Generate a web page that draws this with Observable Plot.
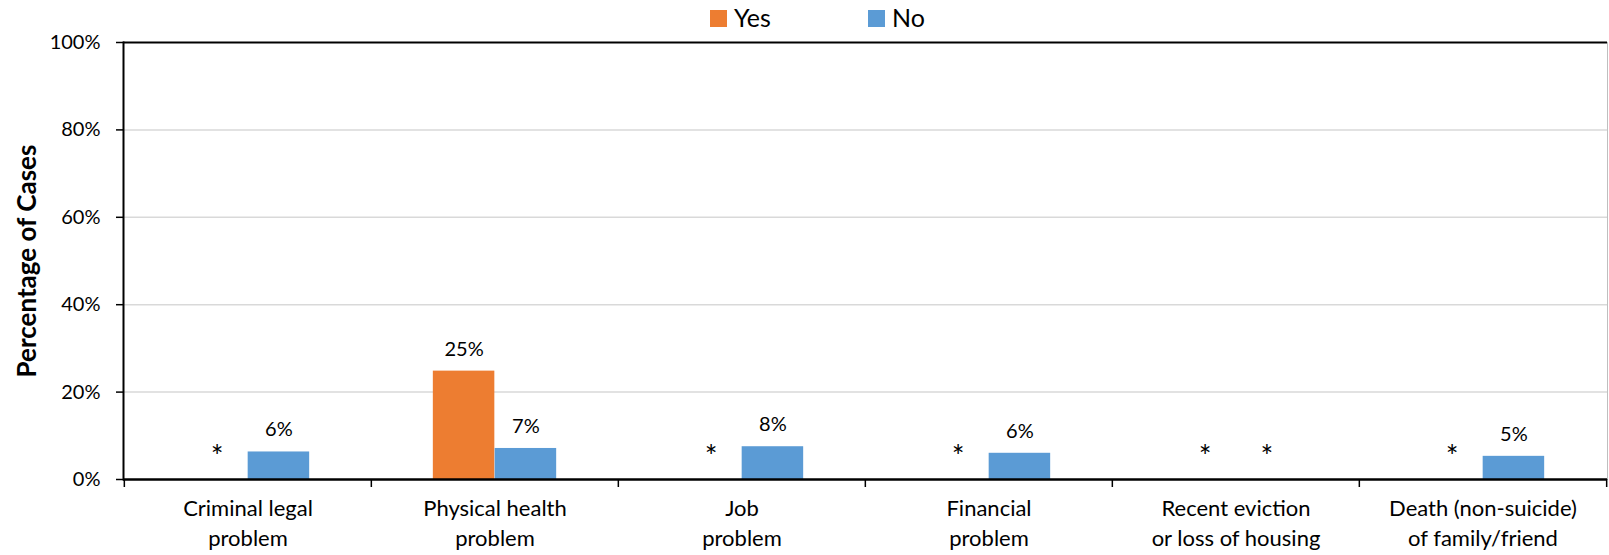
<!DOCTYPE html>
<html>
<head>
<meta charset="utf-8">
<script src="https://cdn.jsdelivr.net/npm/d3@7"></script>
<script src="https://cdn.jsdelivr.net/npm/@observablehq/plot@0.6"></script>
<style>
  html, body { margin: 0; padding: 0; background: #fff; }
  #legend { position: relative; height: 28px; width: 1609px; font-family: Lato, "Open Sans", sans-serif; font-size: 25px; color: #000; }
  #legend .sw { position: absolute; width: 17px; height: 17px; top: 10px; }
  #legend .lb { position: absolute; top: -1.5px; line-height: 37px; white-space: nowrap; }
</style>
</head>
<body>
<div id="legend"></div>
<div id="chart"></div>
<script>
const categories = [
  "Criminal legal\nproblem",
  "Physical health\nproblem",
  "Job\nproblem",
  "Financial\nproblem",
  "Recent eviction\nor loss of housing",
  "Death (non-suicide)\nof family/friend"
];
const seriesNames = ["Yes", "No"];
const seriesColors = ["#ED7D31", "#5B9BD5"];
const yesValues = [null, 24.8, null, null, null, null];
const noValues = [6.3, 7.1, 7.5, 6.0, null, 5.3];
const yesLabels = ["*", "25%", "*", "*", "*", "*"];
const noLabels = ["6%", "7%", "8%", "6%", "*", "5%"];
const yTicks = [0, 20, 40, 60, 80, 100];
const yTitle = "Percentage of Cases";

const rows = categories.map((c, i) => ({
  category: c, yes: yesValues[i], no: noValues[i], yesLabel: yesLabels[i], noLabel: noLabels[i]
}));

// legend
const legend = document.getElementById("legend");
const legendPos = [{sw: 710, lb: 734}, {sw: 868, lb: 892}];
seriesNames.forEach((s, i) => {
  const sw = document.createElement("div");
  sw.className = "sw"; sw.style.left = legendPos[i].sw + "px"; sw.style.background = seriesColors[i];
  const lb = document.createElement("div");
  lb.className = "lb"; lb.style.left = legendPos[i].lb + "px"; lb.textContent = s;
  legend.appendChild(sw); legend.appendChild(lb);
});

const W = 1609, H = 527, mt = 14, ml = 123, mr = 2, mb = 76;
const bw = (W - ml - mr) / categories.length;
const labelSize = t => (t === "*" ? 30 : 20);

const chart = Plot.plot({
  width: W, height: H,
  marginTop: mt, marginLeft: ml, marginRight: mr, marginBottom: mb,
  style: {fontFamily: "Lato, 'Open Sans', sans-serif", fontSize: "20px", color: "#000", background: "#fff"},
  x: {type: "band", domain: categories, paddingInner: 0, paddingOuter: 0},
  y: {domain: [0, 100]},
  marks: [
    Plot.gridY({ticks: [20, 40, 60, 80], stroke: "#d9d9d9", strokeOpacity: 1, strokeWidth: 1.5}),
    Plot.frame({anchor: "right", stroke: "#bfbfbf", strokeWidth: 1}),
    Plot.barY(rows.filter(d => d.yes != null), {x: "category", y: "yes", fill: seriesColors[0], insetLeft: bw / 4, insetRight: bw / 2}),
    Plot.barY(rows.filter(d => d.no != null), {x: "category", y: "no", fill: seriesColors[1], insetLeft: bw / 2, insetRight: bw / 4}),
    Plot.ruleY([100], {stroke: "#000", strokeWidth: 2}),
    Plot.frame({anchor: "left", stroke: "#000", strokeWidth: 2}),
    Plot.ruleY([0], {stroke: "#000", strokeWidth: 2.5}),
    Plot.axisY({ticks: yTicks, tickSize: 7, tickPadding: 16, tickFormat: d => d + "%", fontSize: 20, label: null, strokeWidth: 1.5}),
    Plot.axisX({tickSize: 8, tickFormat: () => "", dx: -bw / 2, label: null, strokeWidth: 1.5}),
    Plot.axisX({ticks: [categories[categories.length - 1]], tickSize: 8, tickFormat: () => "", dx: bw / 2, label: null, strokeWidth: 1.5}),
    Plot.text(categories, {x: d => d, text: d => d, frameAnchor: "bottom", lineAnchor: "top", dy: 15, fontSize: 22, lineHeight: 1.36, fill: "#000"}),
    Plot.text(rows, {x: "category", y: d => d.yes ?? 0, text: "yesLabel", fontSize: d => labelSize(d.yesLabel), dx: -bw / 8, dy: -22, fill: "#000"}),
    Plot.text(rows, {x: "category", y: d => d.no ?? 0, text: "noLabel", fontSize: d => labelSize(d.noLabel), dx: bw / 8, dy: -22, fill: "#000"}),
    Plot.text([yTitle], {frameAnchor: "left", textAnchor: "middle", rotate: -90, dx: -96, fontWeight: "bold", fontSize: 26, fill: "#000"})
  ]
});
document.getElementById("chart").appendChild(chart);
</script>
</body>
</html>
